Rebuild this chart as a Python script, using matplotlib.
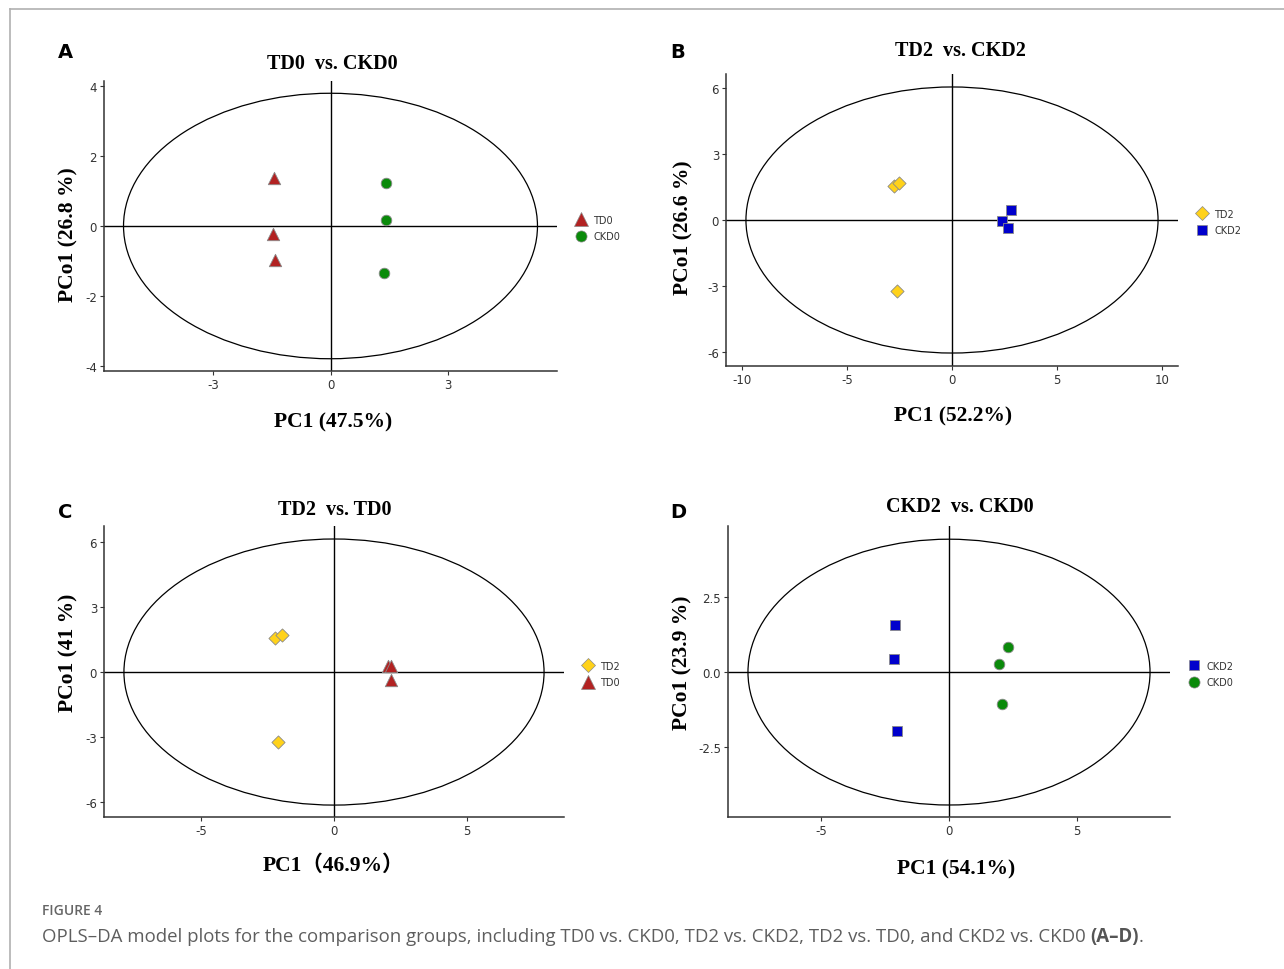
import matplotlib
matplotlib.use("Agg")
import matplotlib.pyplot as plt
from matplotlib.patches import Ellipse
from matplotlib.lines import Line2D

plt.rcParams['axes.unicode_minus'] = False

W, H = 1284, 970

# ---- data ----
# A: TD0 vs CKD0
a_td0_x = [-1.44, -1.46, -1.41]
a_td0_y = [1.37, -0.23, -0.97]
a_ckd0_x = [1.41, 1.41, 1.38]
a_ckd0_y = [1.23, 0.17, -1.34]
a_ellipse = (5.3, 3.79)

# B: TD2 vs CKD2
b_td2_x = [-2.76, -2.52, -2.62]
b_td2_y = [1.55, 1.68, -3.23]
b_ckd2_x = [2.81, 2.38, 2.67]
b_ckd2_y = [0.45, -0.05, -0.36]
b_ellipse = (9.81, 6.05)

# C: TD2 vs TD0
c_td2_x = [-2.22, -1.95, -2.10]
c_td2_y = [1.57, 1.71, -3.23]
c_td0_x = [2.03, 2.14, 2.14]
c_td0_y = [0.28, 0.28, -0.37]
c_ellipse = (7.9, 6.14)

# D: CKD2 vs CKD0
d_ckd2_x = [-2.11, -2.15, -2.03]
d_ckd2_y = [1.57, 0.43, -1.97]
d_ckd0_x = [2.30, 1.95, 2.07]
d_ckd0_y = [0.83, 0.27, -1.07]
d_ellipse = (7.85, 4.43)

# marker styles per group
styles = {
    'TD0': dict(marker='^', color='#B22222', s=80),
    'CKD0': dict(marker='o', color='#0A8A0A', s=58),
    'TD2': dict(marker='D', color='#FFD21A', s=45),
    'CKD2': dict(marker='s', color='#0000CC', s=48),
}

fig = plt.figure(figsize=(W / 100, H / 100), dpi=100)


def px_axes(left, top, right, bottom):
    return fig.add_axes([left / W, 1 - bottom / H, (right - left) / W, (bottom - top) / H])


def ftext(x, y, s, **kw):
    return fig.text(x / W, 1 - y / H, s, **kw)


serif_bold = dict(family=['Liberation Serif', 'Noto Sans CJK SC'], weight='bold')


def panel(box, groups, ell, xlim, ylim, xticks, yticks, yticklabels,
          letter, letter_xy, title, title_xy, xlabel, xlabel_xy, ylabel, ylabel_xy, leg_xy):
    ax = px_axes(*box)
    ax.add_patch(Ellipse((0, 0), 2 * ell[0], 2 * ell[1], fill=False, ec='black', lw=0.9))
    ax.axvline(0, color='black', lw=1.0, zorder=1)
    ax.axhline(0, color='black', lw=1.0, zorder=1)
    handles = []
    for name, xs, ys in groups:
        st = styles[name]
        ax.scatter(xs, ys, marker=st['marker'], s=st['s'], c=st['color'],
                   edgecolors='#8a8a8a', linewidths=0.6, zorder=3)
        handles.append(Line2D([], [], ls='none', marker=st['marker'], color=st['color'],
                              markeredgecolor='#8a8a8a', markeredgewidth=0.5,
                              markersize=st['s'] ** 0.5 * 1.05, label=name))
    ax.set_xlim(*xlim)
    ax.set_ylim(*ylim)
    ax.set_xticks(xticks)
    ax.set_yticks(yticks)
    ax.set_yticklabels(yticklabels)
    for sp in ['top', 'right']:
        ax.spines[sp].set_visible(False)
    for sp in ['left', 'bottom']:
        ax.spines[sp].set_color('#333333')
        ax.spines[sp].set_linewidth(1.1)
    ax.tick_params(length=3, width=0.8, color='#333333', labelsize=8.5,
                   labelcolor='#333333', pad=2)
    ax.legend(handles=handles, loc='center left',
              bbox_to_anchor=((leg_xy[0] - 6) / W, 1 - leg_xy[1] / H),
              bbox_transform=fig.transFigure, frameon=False, borderpad=0,
              borderaxespad=0, handlelength=1.0, handletextpad=0.8,
              labelspacing=0.7, fontsize=7, labelcolor='#333333')
    ftext(*letter_xy, letter, ha='center', va='center', fontsize=14,
          fontweight='bold', family='DejaVu Sans')
    ftext(*title_xy, title, ha='center', va='center', fontsize=14.5, **serif_bold)
    ftext(*xlabel_xy, xlabel, ha='center', va='center', fontsize=15.5, **serif_bold)
    ftext(*ylabel_xy, ylabel, ha='center', va='center', rotation=90, fontsize=15.5, **serif_bold)
    return ax


panel((104, 82, 557, 372),
      [('TD0', a_td0_x, a_td0_y), ('CKD0', a_ckd0_x, a_ckd0_y)], a_ellipse,
      (-5.8, 5.8), (-4.14, 4.14), [-3, 0, 3], [-4, -2, 0, 2, 4],
      ['-4', '-2', '0', '2', '4'],
      'A', (65, 52), 'TD0  vs. CKD0', (332, 64),
      'PC1 (47.5%)', (333, 422), 'PCo1 (26.8 %)', (68, 235), (582, 229))

panel((726, 75, 1178, 367),
      [('TD2', b_td2_x, b_td2_y), ('CKD2', b_ckd2_x, b_ckd2_y)], b_ellipse,
      (-10.76, 10.76), (-6.64, 6.64), [-10, -5, 0, 5, 10], [-6, -3, 0, 3, 6],
      ['-6', '-3', '0', '3', '6'],
      'B', (678, 52), 'TD2  vs. CKD2', (960, 51),
      'PC1 (52.2%)', (953, 416), 'PCo1 (26.6 %)', (683, 228), (1203, 223))

panel((104, 527, 564, 818),
      [('TD2', c_td2_x, c_td2_y), ('TD0', c_td0_x, c_td0_y)], c_ellipse,
      (-8.65, 8.65), (-6.69, 6.74), [-5, 0, 5], [-6, -3, 0, 3, 6],
      ['-6', '-3', '0', '3', '6'],
      'C', (65, 513), 'TD2  vs. TD0', (335, 510),
      'PC1（46.9%）', (333, 866), 'PCo1 (41 %)', (68, 653), (589, 675))

panel((728, 527, 1170, 818),
      [('CKD2', d_ckd2_x, d_ckd2_y), ('CKD0', d_ckd0_x, d_ckd0_y)], d_ellipse,
      (-8.63, 8.63), (-4.83, 4.87), [-5, 0, 5], [-2.5, 0, 2.5],
      ['-2.5', '0.0', '2.5'],
      'D', (678, 513), 'CKD2  vs. CKD0', (960, 507),
      'PC1 (54.1%)', (956, 869), 'PCo1 (23.9 %)', (682, 663), (1195, 675))

# page frame lines
fig.add_artist(Line2D([10 / W, 1], [1 - 10 / H, 1 - 10 / H], color='#b0b0b0', lw=1.2))
fig.add_artist(Line2D([10 / W, 10 / W], [0, 1 - 10 / H], color='#b0b0b0', lw=1.2))

# caption
ftext(42, 911, 'FIGURE 4', ha='left', va='center', fontsize=10, color='#666666',
      family='Open Sans', fontweight='semibold')
cap = ftext(42, 937, 'OPLS\u2013DA model plots for the comparison groups, including TD0 vs. CKD0, '
            'TD2 vs. CKD2, TD2 vs. TD0, and CKD2 vs. CKD0 ',
            ha='left', va='center', fontsize=13.4, color='#5e5e5e', family='Open Sans')
fig.canvas.draw()
bb = cap.get_window_extent()
bold = fig.text(bb.x1 / W, 1 - 937 / H, '(A\u2013D)', ha='left', va='center', fontsize=13.4,
                color='#555555', family='Open Sans', fontweight='bold')
fig.canvas.draw()
bb2 = bold.get_window_extent()
fig.text(bb2.x1 / W, 1 - 937 / H, '.', ha='left', va='center', fontsize=13.4,
         color='#5e5e5e', family='Open Sans')

fig.savefig('out.png', dpi=100)
